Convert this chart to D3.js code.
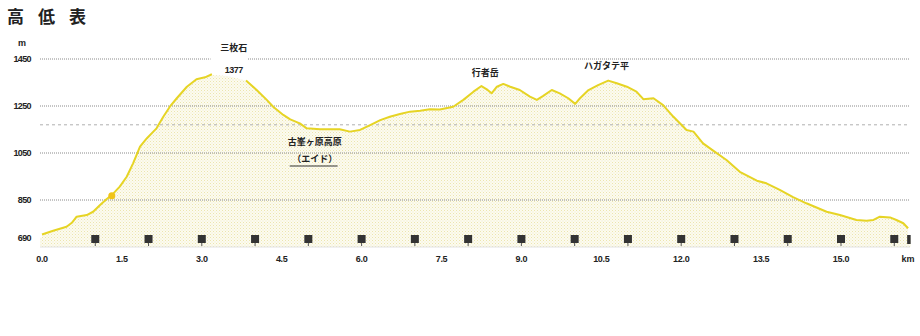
<!DOCTYPE html>
<meta charset="utf-8">
<script src="https://d3js.org/d3.v7.min.js"></script>
<style>
    body { margin: 0; background: #fff; }
    text { font-family: "Liberation Sans", Arial, sans-serif; font-weight: bold; fill: #222; }
</style>
<div id="my_dataviz"></div>
<script>
    // profile: distance (km) and elevation (m)
    var dist = [0.0, 0.21, 0.46, 0.56, 0.65, 0.84, 0.96, 1.09, 1.21, 1.31, 1.46, 1.59, 1.71, 1.84, 1.97, 2.09, 2.15, 2.28, 2.40, 2.53, 2.72, 2.90, 3.06, 3.19,
        3.50,
        3.83, 4.03, 4.22, 4.34, 4.53, 4.66, 4.84, 4.97, 5.22, 5.59, 5.78, 5.97, 6.16, 6.35, 6.53, 6.72, 6.91, 7.10, 7.28, 7.47,
        7.72, 7.91, 8.10, 8.25, 8.35, 8.44, 8.54, 8.66, 8.79, 8.97, 9.16, 9.29, 9.41, 9.57, 9.72, 9.88, 10.01, 10.10, 10.26, 10.44,
        10.63, 10.79, 10.98, 11.16, 11.29, 11.48, 11.66, 11.85, 12.10, 12.23, 12.41, 12.60, 12.85, 13.10, 13.42, 13.60, 13.85,
        14.10, 14.35, 14.73, 14.98, 15.29, 15.48, 15.61, 15.73, 15.92, 16.04, 16.17, 16.26];
    var elev = [703, 719, 736, 753, 779, 786, 800, 829, 853, 871, 907, 949, 1006, 1077, 1113, 1141, 1155, 1205, 1247, 1283, 1332, 1364, 1372, 1385,
        1377,
        1358, 1318, 1276, 1247, 1212, 1193, 1176, 1155, 1151, 1151, 1141, 1148, 1169, 1190, 1204, 1216, 1226, 1230, 1236, 1235,
        1247, 1276, 1311, 1335, 1321, 1304, 1332, 1344, 1332, 1318, 1290, 1276, 1293, 1318, 1304, 1283, 1259, 1283, 1318, 1339,
        1358, 1347, 1332, 1311, 1279, 1283, 1254, 1205, 1148, 1141, 1091, 1060, 1020, 970, 932, 921, 893,
        862, 836, 800, 786, 765, 762, 765, 779, 776, 765, 751, 730];

    var yTicks = [1450, 1250, 1050, 850];
    var yLabels = [1450, 1250, 1050, 850, 690];
    var subLine = 1170;
    var xTicks = [0, 1.5, 3, 4.5, 6, 7.5, 9, 10.5, 12, 13.5, 15];
    var kmPosts = [1, 2, 3, 4, 5, 6, 7, 8, 9, 10, 11, 12, 13, 14, 15, 16];
    var goalKm = 16.27;
    var peakGap = [3.22, 3.8];
    var aidKm = 1.31, aidElev = 868;

    var places = [
        { name: "三枚石", km: 3.6, sub: "1377" },
        { name: "古峯ヶ原高原", km: 5.12, sub: "（エイド）" },
        { name: "行者岳", km: 8.32 },
        { name: "ハガタテ平", km: 10.6 }
    ];

    var W = 920, H = 336;
    var svg = d3.select("#my_dataviz").append("svg")
        .attr("width", W).attr("height", H);

    var x = d3.scaleLinear().domain([0, 15]).range([42, 841]);
    var y = d3.scaleLinear().domain([650, 1450]).range([247, 59]);

    // stipple pattern for the fill
    var defs = svg.append("defs");
    var pat = defs.append("pattern").attr("id", "dots")
        .attr("width", 3).attr("height", 3).attr("patternUnits", "userSpaceOnUse");
    pat.append("rect").attr("width", 3).attr("height", 3).attr("fill", "#fcfbf0");
    pat.append("rect").attr("width", 1).attr("height", 1).attr("fill", "#ece5ae");
    pat.append("rect").attr("x", 1.5).attr("y", 1.5).attr("width", 1).attr("height", 1).attr("fill", "#f2edc6");

    var pts = dist.map(function (d, i) { return [d, elev[i]]; });

    // title
    svg.append("text").attr("x", 7).attr("y", 23)
        .style("font-size", "17px").style("letter-spacing", "14px")
        .style("font-family", "'Noto Sans CJK JP', sans-serif")
        .text("高低表");

    // area
    svg.append("path").datum(pts)
        .attr("fill", "url(#dots)")
        .attr("d", d3.area()
            .x(function (d) { return x(d[0]); })
            .y0(y(650))
            .y1(function (d) { return y(d[1]); }));

    // bottom strip under start/end
    svg.append("rect")
        .attr("x", x(0) - 2).attr("y", y(690))
        .attr("width", x(goalKm) - x(0) + 4).attr("height", y(650) - y(690))
        .attr("fill", "url(#dots)");

    // grid
    svg.selectAll(".grid").data(yTicks).enter().append("line")
        .attr("x1", 40).attr("x2", 910)
        .attr("y1", function (d) { return y(d); }).attr("y2", function (d) { return y(d); })
        .attr("stroke", "#8a8a8a").attr("stroke-width", 1).attr("stroke-dasharray", "1,1");
    svg.append("line")
        .attr("x1", 40).attr("x2", 910)
        .attr("y1", y(subLine)).attr("y2", y(subLine))
        .attr("stroke", "#b0b0b0").attr("stroke-width", 1).attr("stroke-dasharray", "3,3");
    svg.append("line")
        .attr("x1", 40).attr("x2", 910)
        .attr("y1", y(650)).attr("y2", y(650))
        .attr("stroke", "#e2e2e2").attr("stroke-width", 1);

    // white box behind the peak label
    svg.append("rect")
        .attr("x", x(peakGap[0]) - 3).attr("y", 38)
        .attr("width", x(peakGap[1]) - x(peakGap[0]) + 6).attr("height", y(1385) - 38 + 1)
        .attr("fill", "#fff");

    // profile line
    svg.append("path").datum(pts)
        .attr("fill", "none").attr("stroke", "#e6d425").attr("stroke-width", 2)
        .attr("stroke-linejoin", "round")
        .attr("d", d3.line()
            .defined(function (d) { return d[0] <= peakGap[0] || d[0] >= peakGap[1]; })
            .x(function (d) { return x(d[0]); })
            .y(function (d) { return y(d[1]); }));

    // aid dot
    svg.append("circle").attr("cx", x(aidKm)).attr("cy", y(aidElev)).attr("r", 3.5)
        .attr("fill", "#f0c419");

    // y labels
    svg.append("text").attr("x", 22).attr("y", 46).attr("text-anchor", "middle")
        .style("font-size", "9px").text("m");
    svg.selectAll(".ylab").data(yLabels).enter().append("text")
        .attr("x", 31).attr("y", function (d) { return y(d) + 3; })
        .attr("text-anchor", "end").style("font-size", "9px").style("letter-spacing", "-0.6px")
        .text(function (d) { return d; });

    // x labels
    svg.selectAll(".xlab").data(xTicks).enter().append("text")
        .attr("x", function (d) { return x(d); }).attr("y", 262)
        .attr("text-anchor", "middle").style("font-size", "9px").style("letter-spacing", "-0.3px")
        .text(function (d) { return d.toFixed(1); });
    svg.append("text").attr("x", 908).attr("y", 262).attr("text-anchor", "middle")
        .style("font-size", "9px").text("km");

    // km posts
    var post = svg.selectAll(".post").data(kmPosts).enter().append("g")
        .attr("transform", function (d) { return "translate(" + x(d) + ",0)"; });
    post.append("rect").attr("x", -4).attr("y", 235).attr("width", 8).attr("height", 8).attr("fill", "#333");
    post.append("line").attr("x1", 0).attr("x2", 0).attr("y1", 243).attr("y2", 246)
        .attr("stroke", "#555").attr("stroke-width", 1);
    svg.append("rect").attr("x", x(goalKm) - 1.5).attr("y", 235).attr("width", 3.5).attr("height", 9).attr("fill", "#333");

    // place names
    var cjk = "'Noto Sans CJK JP', sans-serif";
    svg.append("text").attr("x", x(places[0].km)).attr("y", 51).attr("text-anchor", "middle")
        .style("font-size", "9px").style("font-family", cjk).text(places[0].name);
    svg.append("text").attr("x", x(places[0].km)).attr("y", 73).attr("text-anchor", "middle")
        .style("font-size", "9px").style("letter-spacing", "-0.5px").text(places[0].sub);

    svg.append("text").attr("x", x(places[1].km)).attr("y", 145).attr("text-anchor", "middle")
        .style("font-size", "9px").style("font-family", cjk).text(places[1].name);
    svg.append("text").attr("x", x(places[1].km)).attr("y", 162).attr("text-anchor", "middle")
        .style("font-size", "9px").style("font-family", cjk).text(places[1].sub);
    svg.append("line").attr("x1", x(4.65)).attr("x2", x(5.55)).attr("y1", 166).attr("y2", 166)
        .attr("stroke", "#333").attr("stroke-width", 1);

    svg.append("text").attr("x", x(places[2].km)).attr("y", 76).attr("text-anchor", "middle")
        .style("font-size", "9px").style("font-family", cjk).text(places[2].name);
    svg.append("text").attr("x", x(places[3].km)).attr("y", 69).attr("text-anchor", "middle")
        .style("font-size", "9px").style("font-family", cjk).text(places[3].name);
</script>
